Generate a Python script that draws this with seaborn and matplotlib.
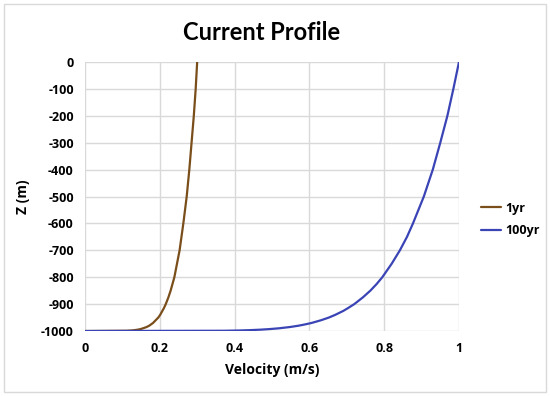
import matplotlib
matplotlib.use("Agg")
import matplotlib.pyplot as plt
import numpy as np
import pandas as pd
import seaborn as sns
from matplotlib.patches import Rectangle

# depth levels (m) and velocities (m/s)
z = [0, -100, -200, -300, -400, -500, -600, -650, -700, -750, -800, -825, -850, -875,
     -900, -915, -925, -940, -950, -960, -970, -975, -980, -985, -990, -993, -995,
     -997, -998, -999, -1000]
v_1yr = [0.300, 0.296, 0.291, 0.285, 0.279, 0.272, 0.263, 0.258, 0.253, 0.246, 0.239,
         0.234, 0.229, 0.223, 0.216, 0.211, 0.207, 0.201, 0.196, 0.189, 0.182, 0.177,
         0.172, 0.165, 0.155, 0.148, 0.141, 0.131, 0.124, 0.112, 0.0]
v_100yr = [1.000, 0.985, 0.969, 0.950, 0.930, 0.906, 0.877, 0.861, 0.842, 0.820, 0.795,
           0.780, 0.763, 0.743, 0.720, 0.703, 0.691, 0.669, 0.652, 0.631, 0.606, 0.590,
           0.572, 0.549, 0.518, 0.492, 0.469, 0.437, 0.412, 0.373, 0.0]
x_ticks = [0, 0.2, 0.4, 0.6, 0.8, 1]
x_labels = ["0", "0.2", "0.4", "0.6", "0.8", "1"]
y_ticks = list(range(0, -1001, -100))

df = pd.DataFrame({
    "Z": z + z,
    "V": v_1yr + v_100yr,
    "case": ["1yr"] * len(z) + ["100yr"] * len(z),
})

sns.set_style("white")
plt.rcParams["font.family"] = ["Open Sans", "DejaVu Sans"]
plt.rcParams["text.color"] = "black"
plt.rcParams["axes.labelcolor"] = "black"
plt.rcParams["xtick.color"] = "black"
plt.rcParams["ytick.color"] = "black"

fig = plt.figure(figsize=(5.5, 3.96), dpi=100)
ax = fig.add_axes([0.1545, 0.1641, 0.68, 0.6793])

sns.lineplot(data=df, x="V", y="Z", hue="case", sort=False, estimator=None,
             palette={"1yr": "#7A4E1A", "100yr": "#3A44B5"}, linewidth=1.6, ax=ax)

ax.set_xlim(0, 1)
ax.set_ylim(-1000, 0)
ax.set_xticks(x_ticks)
ax.set_xticklabels(x_labels)
ax.set_yticks(y_ticks)
ax.set_yticklabels([str(t) for t in y_ticks])
ax.grid(True, color="#D9D9D9", linewidth=1)
ax.set_axisbelow(True)
for s in ax.spines.values():
    s.set_visible(False)
ax.tick_params(length=0, labelsize=9, pad=8)
for lab in ax.get_xticklabels() + ax.get_yticklabels():
    lab.set_fontweight("bold")

ax.set_xlabel("Velocity (m/s)", fontsize=10, fontweight="bold", labelpad=6)
ax.set_ylabel("Z (m)", fontsize=10, fontweight="bold", labelpad=8)
fig.text(0.476, 0.918, "Current Profile", fontsize=17, fontweight="bold",
         ha="center", va="center", family=["Lato", "DejaVu Sans"])

ax.legend(title=None, frameon=False, loc="center left", bbox_to_anchor=(1.03, 0.415),
          handlelength=1.6, labelspacing=0.75, handletextpad=0.3,
          prop={"weight": "bold", "size": 9})

fig.patches.append(Rectangle((0.008, 0.01), 0.984, 0.98, transform=fig.transFigure,
                             fill=False, edgecolor="#D9D9D9", linewidth=1))

fig.savefig("out.png", dpi=100, facecolor="white")
